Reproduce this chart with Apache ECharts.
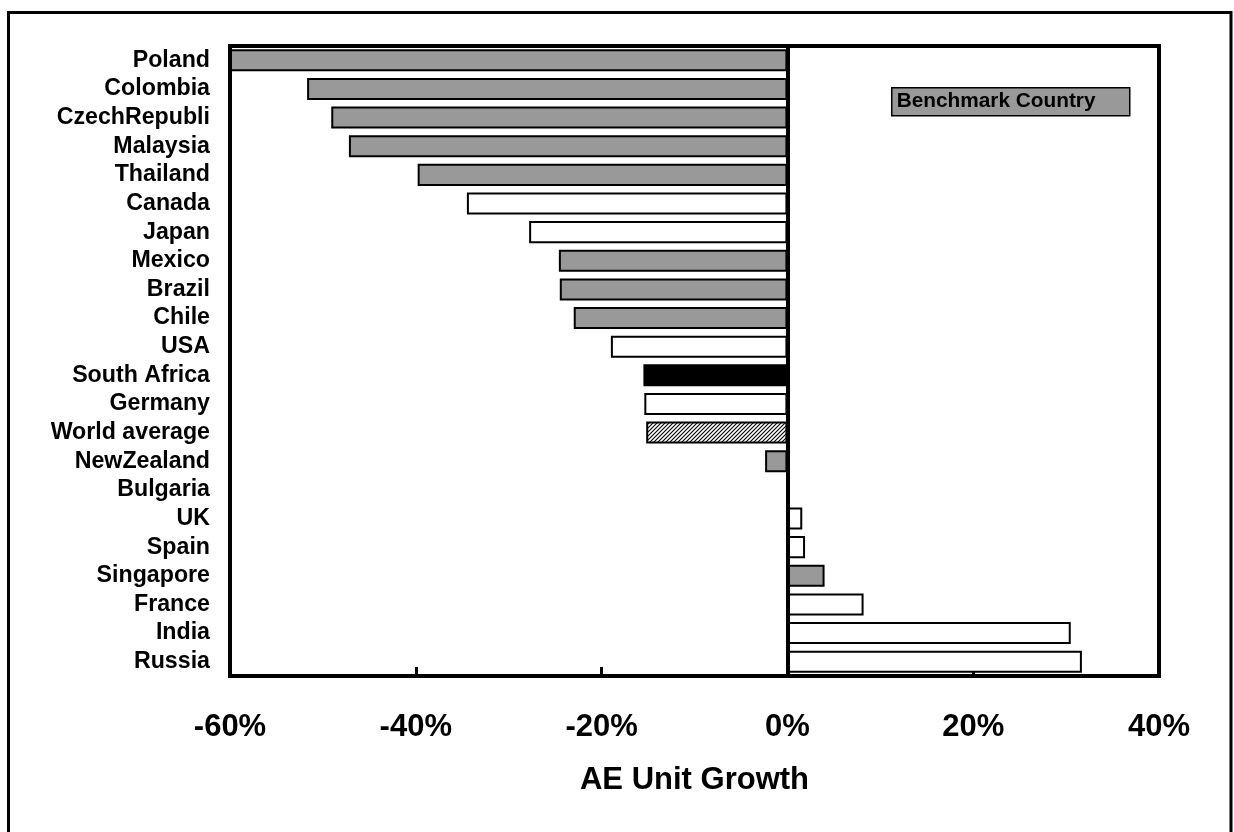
<!DOCTYPE html>
<html>
<head>
<meta charset="utf-8">
<title>AE Unit Growth</title>
<script src="https://cdn.jsdelivr.net/npm/echarts@6/dist/echarts.min.js"></script>
<style>
  html, body { margin: 0; padding: 0; background: #ffffff; }
  #chart { width: 1234px; height: 832px; }
</style>
</head>
<body>
<div id="chart"></div>
<script>
// Countries, top to bottom
const countries = [
  'Poland', 'Colombia', 'CzechRepubli', 'Malaysia', 'Thailand', 'Canada',
  'Japan', 'Mexico', 'Brazil', 'Chile', 'USA', 'South Africa', 'Germany',
  'World average', 'NewZealand', 'Bulgaria', 'UK', 'Spain', 'Singapore',
  'France', 'India', 'Russia'
];

// AE unit growth, percent
const growth = [
  -60, -51.7, -49.1, -47.2, -39.8, -34.5,
  -27.8, -24.6, -24.5, -23.0, -19.0, -15.5, -15.4,
  -15.2, -2.4, 0, 1.6, 1.9, 4.0,
  8.2, 30.5, 31.7
];

// Fill type per country: benchmark, other, focus, average
const fillType = [
  'benchmark', 'benchmark', 'benchmark', 'benchmark', 'benchmark', 'other',
  'other', 'benchmark', 'benchmark', 'benchmark', 'other', 'focus', 'other',
  'average', 'benchmark', 'benchmark', 'other', 'other', 'benchmark',
  'other', 'other', 'other'
];

// Axis ticks
const axisMin = -60;
const axisMax = 40;
const axisStep = 20;

const legendText = 'Benchmark Country';
const axisTitle = 'AE Unit Growth';

// Diagonal hatch used for the world average bar
function hatchPattern() {
  const s = 4;
  const c = document.createElement('canvas');
  c.width = s; c.height = s;
  const g = c.getContext('2d');
  g.fillStyle = '#ffffff';
  g.fillRect(0, 0, s, s);
  g.strokeStyle = '#000000';
  g.lineWidth = 1.1;
  g.beginPath();
  g.moveTo(-1, s + 1); g.lineTo(s + 1, -1);
  g.moveTo(-1, 1); g.lineTo(1, -1);
  g.moveTo(s - 1, s + 1); g.lineTo(s + 1, s - 1);
  g.stroke();
  return { image: c, repeat: 'repeat' };
}

const fills = {
  benchmark: '#999999',
  other: '#ffffff',
  focus: '#000000',
  average: hatchPattern()
};

const barData = growth.map((v, i) => ({
  value: v,
  itemStyle: { color: fills[fillType[i]] }
}));

const FONT = '"Liberation Sans", Arial, sans-serif';

const chart = echarts.init(document.getElementById('chart'), null, { renderer: 'canvas' });

chart.setOption({
  backgroundColor: '#ffffff',
  animation: false,
  grid: {
    left: 230, right: 75, top: 46, bottom: 156,
    show: true,
    borderColor: '#000000',
    borderWidth: 4,
    backgroundColor: 'transparent'
  },
  xAxis: {
    type: 'value',
    min: axisMin,
    max: axisMax,
    interval: axisStep,
    name: axisTitle,
    nameLocation: 'middle',
    nameGap: 89,
    nameTextStyle: { fontFamily: FONT, fontWeight: 'bold', fontSize: 31, color: '#000000' },
    axisLine: { show: true, lineStyle: { color: '#000000', width: 4 } },
    axisTick: { show: true, inside: true, length: 9, lineStyle: { color: '#000000', width: 3 } },
    axisLabel: {
      margin: 36,
      fontFamily: FONT, fontWeight: 'bold', fontSize: 31, color: '#000000',
      formatter: v => v + '%'
    },
    splitLine: { show: false }
  },
  yAxis: {
    type: 'category',
    data: countries,
    inverse: true,
    axisLine: { show: true, onZero: false, lineStyle: { color: '#000000', width: 4 } },
    axisTick: { show: false },
    axisLabel: {
      interval: 0,
      margin: 20,
      fontFamily: FONT, fontWeight: 'bold', fontSize: 23.2, color: '#000000'
    },
    splitLine: { show: false }
  },
  series: [{
    type: 'bar',
    data: barData,
    barCategoryGap: '23%',
    itemStyle: { borderColor: '#000000', borderWidth: 2 },
    markLine: {
      silent: true,
      symbol: ['none', 'none'],
      label: { show: false },
      lineStyle: { color: '#000000', width: 4, type: 'solid' },
      data: [{ xAxis: 0 }]
    }
  }],
  graphic: [
    {
      type: 'rect',
      shape: { x: 8.5, y: 12.5, width: 1222.5, height: 900 },
      style: { fill: 'none', stroke: '#000000', lineWidth: 3 },
      silent: true
    },
    {
      type: 'group',
      left: 891, top: 87,
      children: [
        {
          type: 'rect',
          shape: { x: 0, y: 0, width: 238, height: 28 },
          style: { fill: '#999999', stroke: '#000000', lineWidth: 1.5 }
        },
        {
          type: 'text',
          x: 5, y: 14,
          style: {
            text: legendText,
            fontFamily: FONT, fontWeight: 'bold', fontSize: 20.8,
            fill: '#000000', verticalAlign: 'middle', align: 'left'
          }
        }
      ]
    }
  ]
});
</script>
</body>
</html>
